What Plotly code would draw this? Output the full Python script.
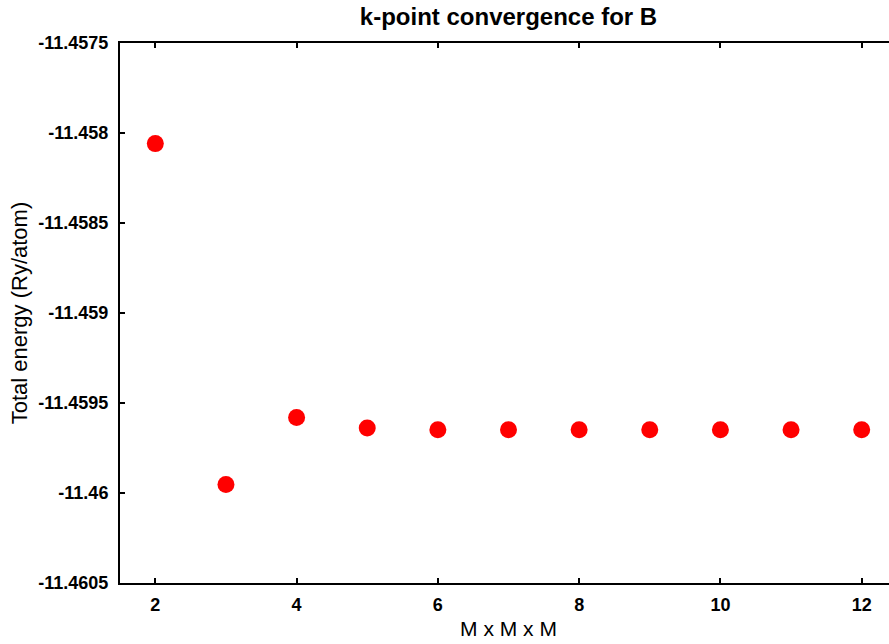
import plotly.graph_objects as go

# Data
k_mesh = [2, 3, 4, 5, 6, 7, 8, 9, 10, 11, 12]
total_energy = [-11.458059, -11.459953, -11.459581, -11.459639, -11.459648,
                -11.459648, -11.459648, -11.459648, -11.459648, -11.459648, -11.459648]

x_tickvals = [2, 4, 6, 8, 10, 12]
x_ticktext = ["2", "4", "6", "8", "10", "12"]
y_tickvals = [-11.4575, -11.458, -11.4585, -11.459, -11.4595, -11.46, -11.4605]
y_ticktext = ["-11.4575", "-11.458", "-11.4585", "-11.459", "-11.4595", "-11.46", "-11.4605"]

FONT = "Liberation Sans, Arial, sans-serif"

fig = go.Figure()
fig.add_trace(go.Scatter(
    x=k_mesh, y=total_energy, mode="markers",
    marker=dict(color="#ff0000", size=17, line=dict(width=0)),
    showlegend=False,
))

fig.update_layout(
    width=900, height=644,
    margin=dict(l=120, r=3, t=43, b=61),
    paper_bgcolor="white", plot_bgcolor="white",
    title=dict(
        text="<b>k-point convergence for B</b>",
        x=0.5, xref="paper", xanchor="center",
        y=1 - 17 / 644, yref="container", yanchor="middle",
        font=dict(family=FONT, size=24, color="#000000"),
    ),
    font=dict(family=FONT, color="#000000"),
)

fig.update_xaxes(
    range=[1.5, 12.5], tickvals=x_tickvals, ticktext=x_ticktext,
    ticks="inside", ticklen=5, tickwidth=2, tickcolor="black",
    showline=True, linewidth=2, linecolor="black", mirror="ticks",
    showgrid=False, zeroline=False,
    tickfont=dict(family=FONT, size=18, color="#000000", weight="bold"),
    ticklabelstandoff=4,
    title=dict(text="M x M x M", standoff=8,
               font=dict(family=FONT, size=21, color="#000000")),
    automargin=False,
)
fig.update_yaxes(
    range=[-11.4605, -11.4575], tickvals=y_tickvals, ticktext=y_ticktext,
    ticks="inside", ticklen=5, tickwidth=2, tickcolor="black",
    showline=True, linewidth=2, linecolor="black", mirror="ticks",
    showgrid=False, zeroline=False,
    tickfont=dict(family=FONT, size=18, color="#000000", weight="bold"),
    ticklabelstandoff=6,
    title=dict(text="Total energy (Ry/atom)", standoff=5,
               font=dict(family=FONT, size=22, color="#000000")),
    automargin=False,
)

fig.write_html(
    "out.html",
    post_script="document.documentElement.style.overflow='hidden';document.body.style.overflow='hidden';",
)
